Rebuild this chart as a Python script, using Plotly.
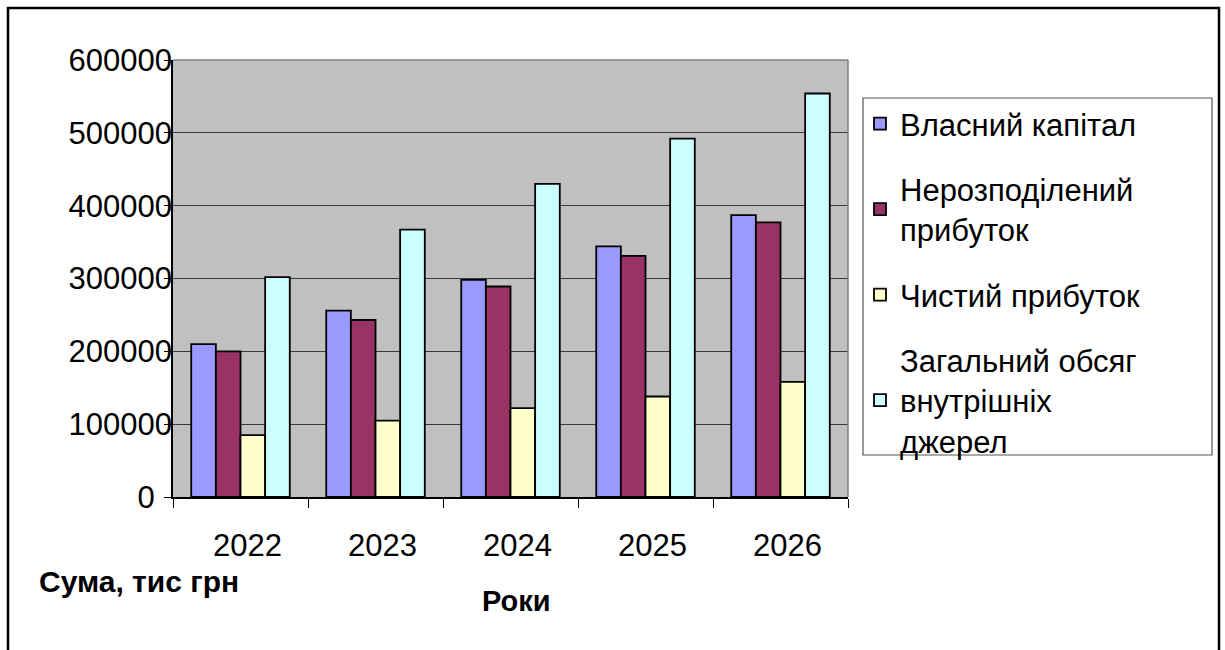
import plotly.graph_objects as go

years = ["2022", "2023", "2024", "2025", "2026"]
series_names = [
    "Власний капітал",
    "Нерозподілений<br>прибуток",
    "Чистий прибуток",
    "Загальний обсяг<br>внутрішніх<br>джерел",
]
vlasnyi_kapital = [210000, 256000, 298000, 344000, 387000]
nerozpodilenyi_prybutok = [200000, 243000, 289000, 331000, 377000]
chystyi_prybutok = [85000, 105000, 122000, 138000, 158000]
zagalnyi_obsiah = [302000, 367000, 430000, 492000, 554000]
y_ticks = [0, 100000, 200000, 300000, 400000, 500000, 600000]
y_tick_labels = ["0&nbsp;&nbsp;", "100000", "200000", "300000", "400000", "500000", "600000"]

colors = ["#9999FF", "#993366", "#FFFFCC", "#CCFFFF"]
series_values = [vlasnyi_kapital, nerozpodilenyi_prybutok, chystyi_prybutok, zagalnyi_obsiah]

FONT = "Arial, 'Liberation Sans', sans-serif"

fig = go.Figure()
for i, (name, vals) in enumerate(zip(series_names, series_values)):
    fig.add_trace(go.Bar(
        x=years, y=vals, name=name,
        marker=dict(color=colors[i], line=dict(color="black", width=1.8)),
        legendgroup=f"g{i}",
    ))

# plot area in px: x 173..848, y 60..497
L, R, T, B = 173, 848, 60, 497
W, H = 1225, 650
pw, ph = R - L, B - T

def px(x):
    return (x - L) / pw

def py(y):
    return (B - y) / ph

fig.update_layout(
    width=W, height=H,
    margin=dict(l=L, r=W - R, t=T, b=H - B, pad=0),
    paper_bgcolor="white",
    plot_bgcolor="#C0C0C0",
    barmode="group",
    bargap=0.27,
    bargroupgap=0,
    font=dict(family=FONT, size=30, color="black"),
    showlegend=True,
    legend=dict(
        x=px(860), y=py(97), xanchor="left", yanchor="top",
        bgcolor="rgba(0,0,0,0)", borderwidth=0,
        font=dict(family=FONT, size=31, color="black"),
        traceorder="grouped", tracegroupgap=22,
        valign="middle",
    ),
    xaxis=dict(
        type="category",
        showline=True, linecolor="black", linewidth=1.5,
        ticks="outside", tickson="boundaries", ticklen=9, tickcolor="black", tickwidth=1,
        tickfont=dict(family=FONT, size=31, color="black"),
        ticklabelstandoff=20,
        ticklabelshift=7,
        showgrid=False,
    ),
    yaxis=dict(
        range=[0, 600000],
        tickvals=y_ticks,
        ticktext=y_tick_labels,
        showline=True, linecolor="black", linewidth=1.5,
        ticks="outside", ticklen=7, tickcolor="black", tickwidth=1,
        tickfont=dict(family=FONT, size=31, color="black"),
        ticklabelstandoff=-14,
        showgrid=True, gridcolor="#3a3a3a", gridwidth=1.2,
        zeroline=False,
    ),
    shapes=[
        # plot-area frame (top and right, gray)
        dict(type="line", xref="paper", yref="paper", x0=0, x1=1, y0=1, y1=1,
             line=dict(color="#808080", width=1.5)),
        dict(type="line", xref="paper", yref="paper", x0=1, x1=1, y0=0, y1=1,
             line=dict(color="#808080", width=1.5)),
        # legend box
        dict(type="rect", xref="paper", yref="paper",
             x0=px(863), x1=px(1212), y0=py(455), y1=py(98),
             line=dict(color="#555555", width=1.2), fillcolor="rgba(0,0,0,0)", layer="below"),
        # outer chart border
        dict(type="rect", xref="paper", yref="paper",
             x0=px(8), x1=px(1219), y0=py(665), y1=py(8),
             line=dict(color="black", width=2.5), fillcolor="rgba(0,0,0,0)"),
    ],
    annotations=[
        dict(text="<b>Сума, тис грн</b>", xref="paper", yref="paper",
             x=px(37), y=py(581), xanchor="left", yanchor="middle", showarrow=False,
             font=dict(family=FONT, size=30, color="black")),
        dict(text="<b>Роки</b>", xref="paper", yref="paper",
             x=px(516), y=py(601), xanchor="center", yanchor="middle", showarrow=False,
             font=dict(family=FONT, size=29, color="black")),
    ],
)

fig.write_html("out.html")
